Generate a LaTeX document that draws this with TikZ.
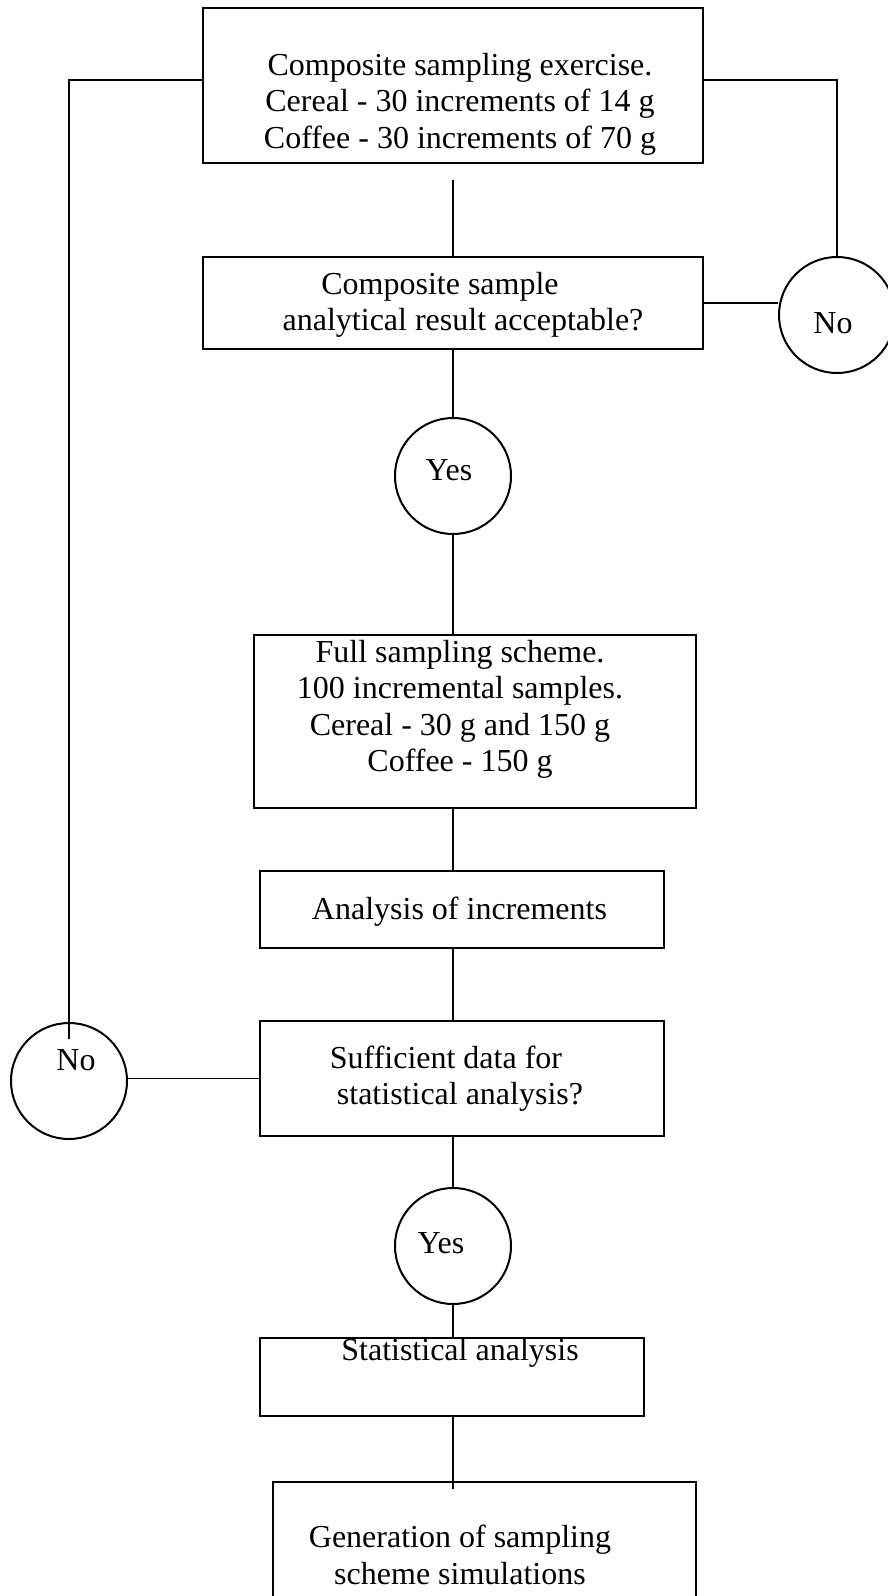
\documentclass[tikz,border=0pt]{standalone}
\usepackage{fontspec}
\setmainfont{Liberation Serif}
\usetikzlibrary{calc}

\begin{document}
\begin{tikzpicture}[x=1pt, y=-1pt,
  box/.style={draw=black, line width=2pt, rectangle, inner sep=0pt},
  ring/.style={draw=black, line width=2pt, circle, minimum size=116pt, inner sep=0pt},
  txt/.style={font=\fontsize{32}{36.5}\selectfont, align=center, inner sep=0pt},
  link/.style={line width=1.8pt, draw=black}
]
  \useasboundingbox (0,0) rectangle (888,1596);

  % Boxes
  \node[box, minimum width=500pt, minimum height=155pt] (exercise) at (453,85.5) {};
  \node[box, minimum width=500pt, minimum height=92pt]  (accept)   at (453,303) {};
  \node[box, minimum width=442pt, minimum height=173pt] (scheme)   at (475,721.5) {};
  \node[box, minimum width=404pt, minimum height=77pt]  (analysis) at (462,909.5) {};
  \node[box, minimum width=404pt, minimum height=115pt] (enough)   at (462,1078.5) {};
  \node[box, minimum width=384pt, minimum height=78pt]  (stats)    at (452,1377) {};
  \node[box, minimum width=423pt, minimum height=158pt] (simul)    at (484.5,1561) {};

  % Circles
  \node[ring] (noA)  at (837,315) {};
  \node[ring] (yesA) at (453,476) {};
  \node[ring] (noB)  at (69,1081) {};
  \node[ring] (yesB) at (453,1246) {};

  % Texts
  \node[txt] (exercisetxt) at (460,104) {Composite sampling exercise.\\Cereal - 30 increments of 14 g\\Coffee - 30 increments of 70 g};
  \node[txt] (accepttxt)   at (463,305) {Composite sample\makebox[46pt]{}\\analytical result acceptable?};
  \node[txt] (schemetxt)   at (460,709.5) {Full sampling scheme.\\100 incremental samples.\\Cereal - 30 g and 150 g\\Coffee - 150 g};
  \node[txt] (analysistxt) at (459.5,912) {Analysis of increments};
  \node[txt] (enoughtxt)   at (460,1078.5) {Sufficient data for\makebox[28pt]{}\\statistical analysis?};
  \node[txt] (statstxt)    at (460,1353) {Statistical analysis};
  \node[txt] (simultxt)    at (460,1555) {Generation of sampling\\scheme simulations};
  \node[txt] (noAtxt)  at (833,323) {No};
  \node[txt] (yesAtxt) at (449,470) {Yes};
  \node[txt] (noBtxt)  at (76,1060) {No};
  \node[txt] (yesBtxt) at (441,1243) {Yes};

  % Main line
  \coordinate (spine) at (453,0);
  \draw[link, shorten <=16pt] (exercise) -- (accept);
  \draw[link] (accept) -- (yesA);
  \draw[link] (yesA.south) -- (yesA.south |- scheme.north);
  \draw[link] (scheme.south -| spine) -- (analysis.north -| spine);
  \draw[link] (analysis.south -| spine) -- (enough.north -| spine);
  \draw[link] (enough.south -| spine) -- (yesB.north);
  \draw[link] (yesB.south) -- (yesB.south |- stats.north);
  \draw[link, shorten >=-8pt] (stats.south -| spine) -- (simul.north -| spine);

  % Loops back
  \draw[link] (accept.east) -- (accept.east -| noA.west);
  \draw[link] (noA) |- ([yshift=5.5pt]exercise.east);
  \draw[link] (enough.west) -- (enough.west -| noB.east);
  \draw[link, shorten <=-17pt] (noB) |- ([yshift=5.5pt]exercise.west);
\end{tikzpicture}
\end{document}
